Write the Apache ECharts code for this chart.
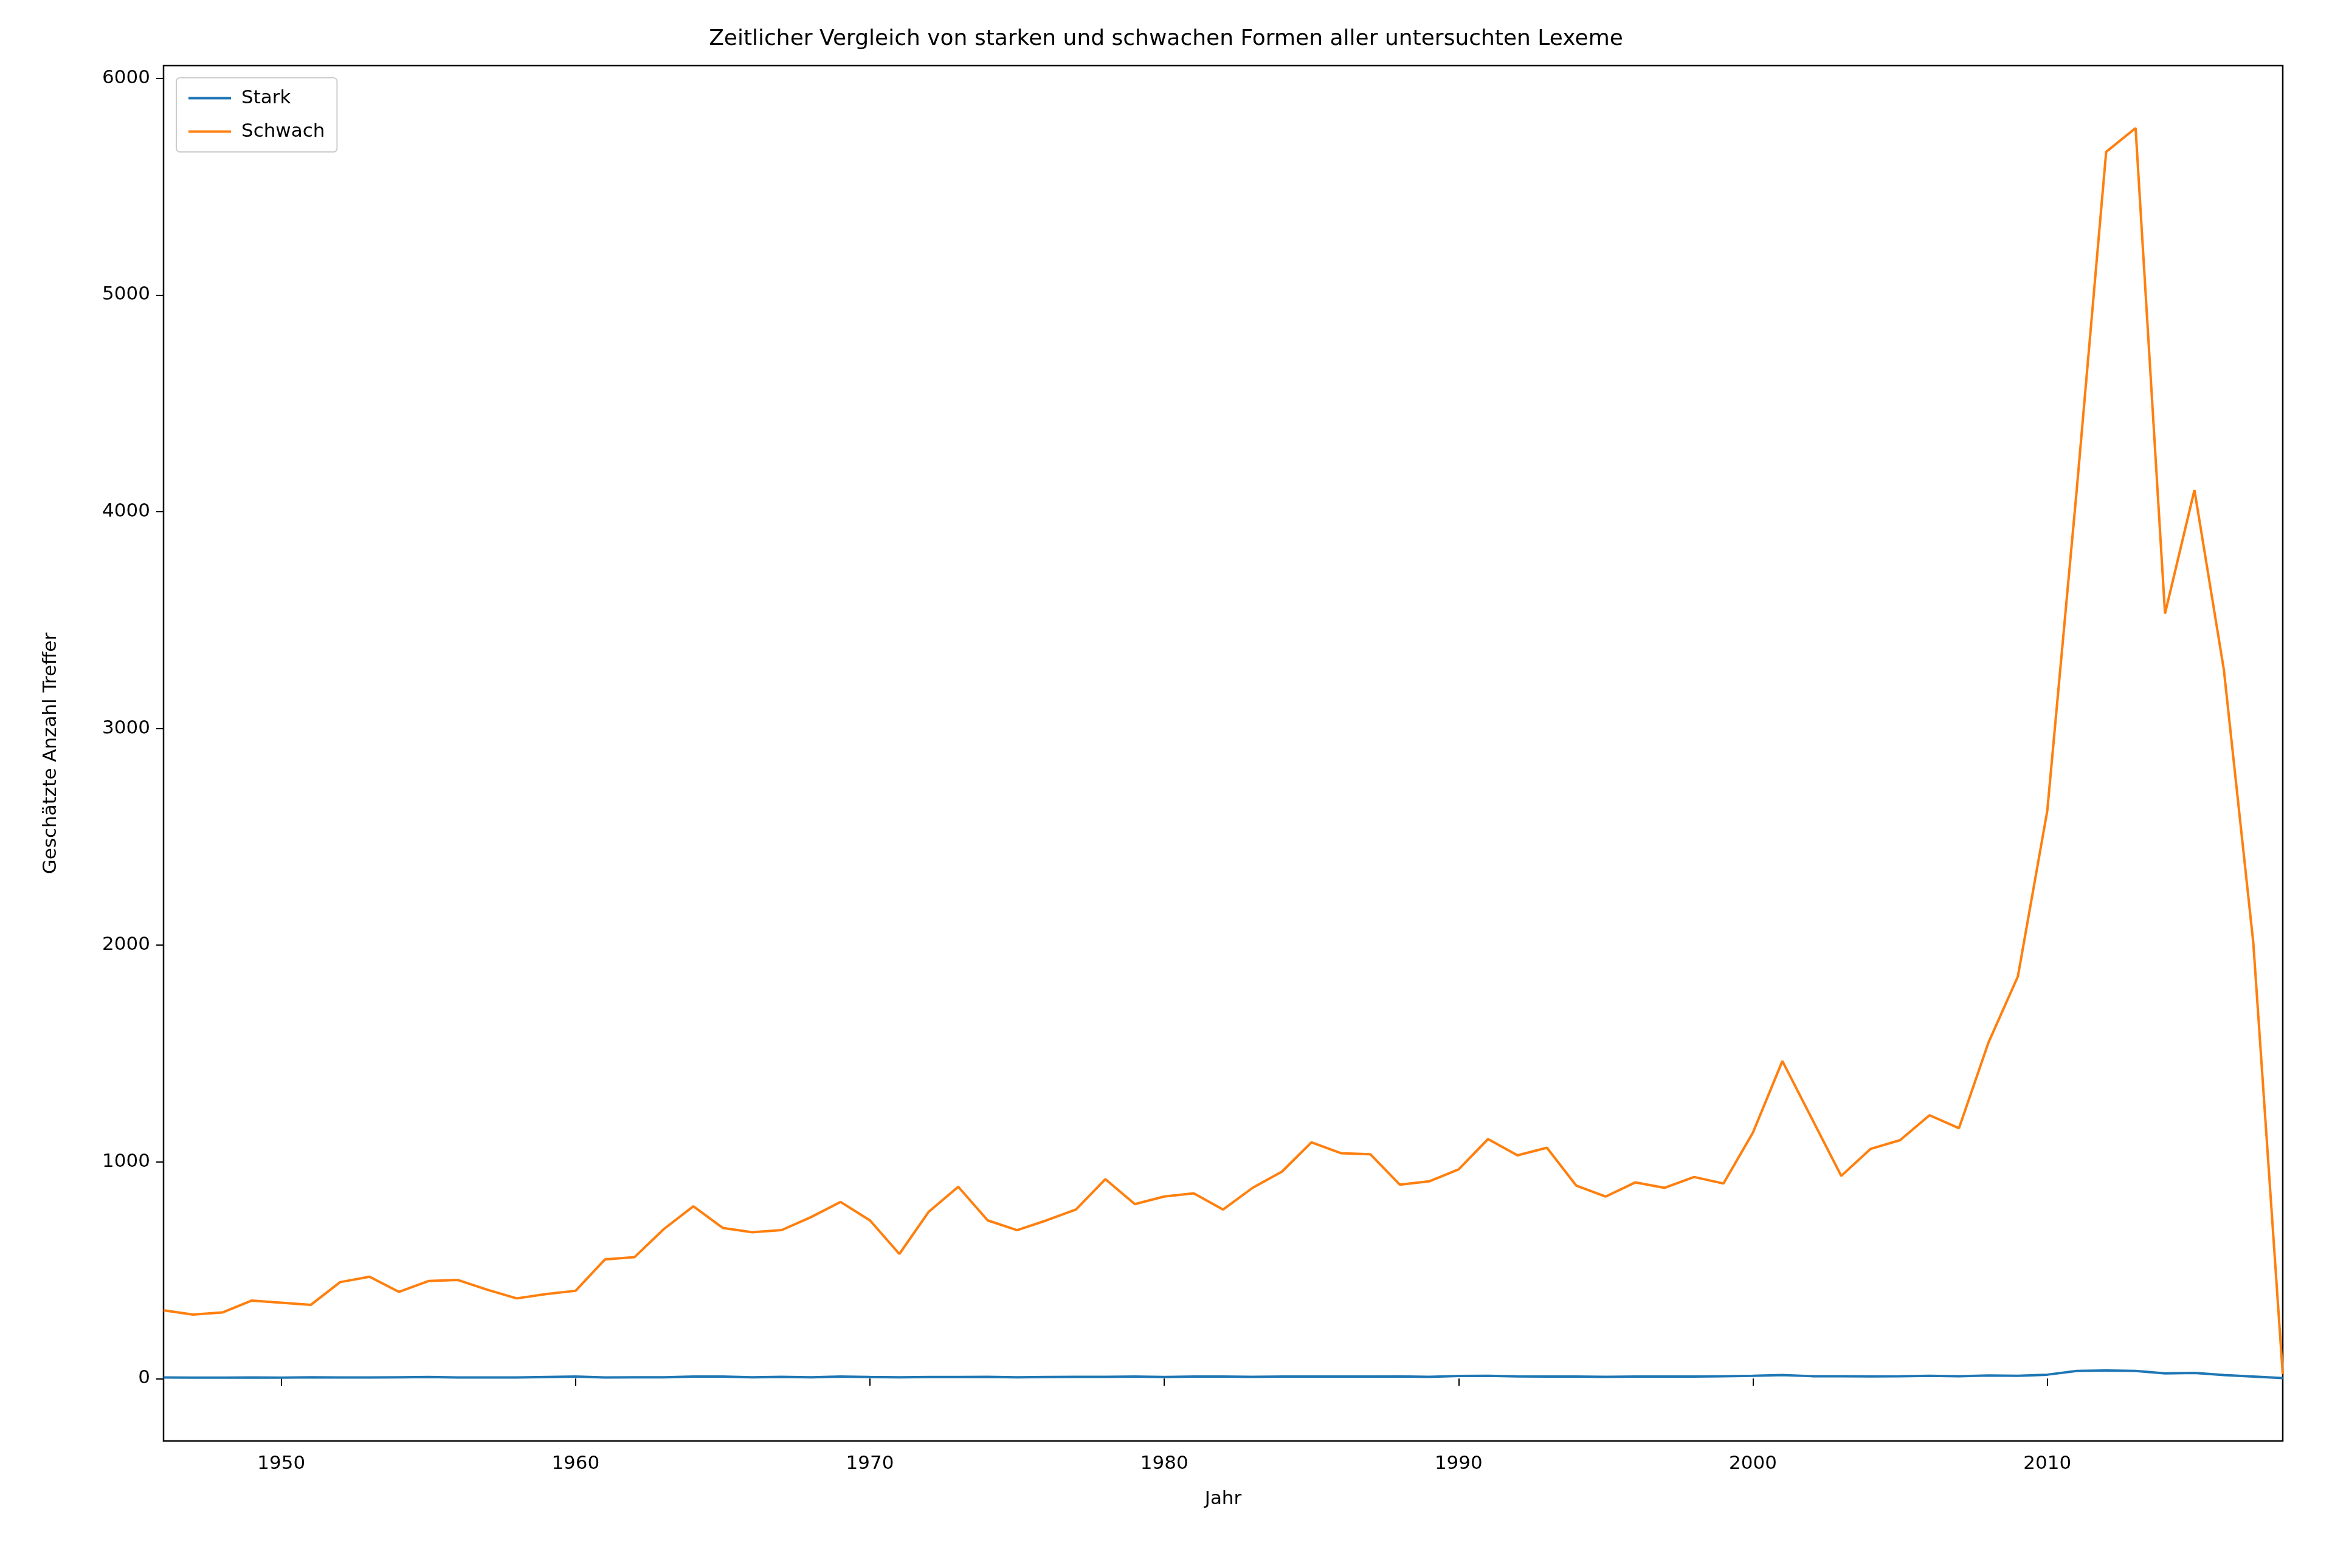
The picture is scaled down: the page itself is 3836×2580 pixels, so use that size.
<!DOCTYPE html><html><head><meta charset="utf-8">
<script src="https://cdn.jsdelivr.net/npm/echarts@6/dist/echarts.min.js"></script>
<style>html,body{margin:0;background:#fff}#c{width:3836px;height:2580px}</style></head><body><div id="c"></div>
<script>
const years=[];for(let y=1946;y<=2018;y++)years.push(y);
const schwach=[315,295,305,360,350,340,445,470,400,450,455,410,370,390,405,550,560,690,795,695,675,685,745,815,730,575,770,885,730,685,730,780,920,805,840,855,780,880,955,1090,1040,1035,895,910,965,1105,1030,1065,890,840,905,880,930,900,1135,1465,1200,935,1060,1100,1215,1155,1550,1855,2620,4100,5660,5770,3530,4100,3270,2010,20];
const stark=[5,4,4,5,4,6,5,5,6,7,5,5,5,7,9,5,6,6,9,9,6,8,6,9,7,6,7,7,8,6,7,8,8,9,7,9,9,8,9,9,9,9,10,8,12,13,10,9,9,8,9,9,9,11,13,16,11,11,10,11,13,11,14,13,18,35,37,35,24,26,16,9,2];
const xTicks=[1950,1960,1970,1980,1990,2000,2010];
const yTicks=[0,1000,2000,3000,4000,5000,6000];
const f='DejaVu Sans';
echarts.init(document.getElementById('c')).setOption({
animation:false,
title:{text:'Zeitlicher Vergleich von starken und schwachen Formen aller untersuchten Lexeme',left:'center',top:42,textStyle:{fontFamily:f,fontSize:36,fontWeight:'normal',color:'#000'}},
legend:{left:290,top:128,orient:'vertical',itemWidth:70,itemHeight:4,itemGap:24,borderColor:'#ccc',borderWidth:2,borderRadius:6,padding:[18,20],icon:'rect',textStyle:{fontFamily:f,fontSize:31,color:'#000',padding:[0,0,0,12]},data:['Stark','Schwach']},
grid:{left:269,right:81,top:108,bottom:209,show:true,borderColor:'#000',borderWidth:2.5,containLabel:false},
xAxis:{type:'value',min:1946,max:2018,name:'Jahr',nameLocation:'middle',nameGap:80,nameTextStyle:{fontFamily:f,fontSize:31,color:'#000'},splitLine:{show:false},
 axisLine:{show:false},axisTick:{show:true,length:12,lineStyle:{color:'#000',width:2},customValues:xTicks},axisLabel:{customValues:xTicks,fontFamily:f,fontSize:31,color:'#000',margin:22,formatter:v=>String(v)}},
yAxis:{type:'value',min:-288,max:6058,name:'Geschätzte Anzahl Treffer',nameLocation:'middle',nameGap:170,nameTextStyle:{fontFamily:f,fontSize:31,color:'#000'},splitLine:{show:false},
 axisLine:{show:false},axisTick:{show:true,length:12,lineStyle:{color:'#000',width:2},customValues:yTicks},axisLabel:{customValues:yTicks,fontFamily:f,fontSize:31,color:'#000',margin:22,formatter:v=>String(v)}},
series:[
{name:'Stark',type:'line',showSymbol:false,data:years.map((y,i)=>[y,stark[i]]),lineStyle:{color:'#1f77b4',width:4},itemStyle:{color:'#1f77b4'}},
{name:'Schwach',type:'line',showSymbol:false,data:years.map((y,i)=>[y,schwach[i]]),lineStyle:{color:'#ff7f0e',width:4},itemStyle:{color:'#ff7f0e'}}
]});
</script></body></html>
